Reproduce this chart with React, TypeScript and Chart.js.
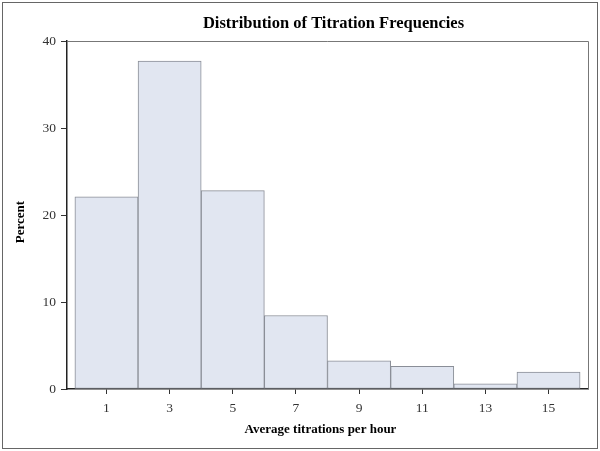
import React, { useEffect, useRef } from "react";
import { Chart, registerables } from "chart.js";

Chart.register(...registerables);

const binCenters = [1, 3, 5, 7, 9, 11, 13, 15];
const percents = [22.1, 37.7, 22.8, 8.45, 3.25, 2.6, 0.6, 1.95];
const yTicks = [0, 10, 20, 30, 40];
const titleText = "Distribution of Titration Frequencies";
const xTitle = "Average titrations per hour";
const yTitle = "Percent";

const frame = {
  id: "frame",
  afterDraw(chart: any) {
    const { ctx, chartArea } = chart;
    ctx.save();
    ctx.strokeStyle = "#777";
    ctx.lineWidth = 1;
    ctx.beginPath();
    ctx.moveTo(chartArea.left, Math.round(chartArea.top) + 0.5);
    ctx.lineTo(Math.round(chartArea.right) + 0.5, Math.round(chartArea.top) + 0.5);
    ctx.lineTo(Math.round(chartArea.right) + 0.5, chartArea.bottom);
    ctx.stroke();
    ctx.strokeStyle = "#666";
    ctx.strokeRect(2.5, 2.5, chart.width - 5, chart.height - 5);

    const cx = (chartArea.left + chartArea.right) / 2;
    const cy = (chartArea.top + chartArea.bottom) / 2;
    ctx.fillStyle = "#000";
    ctx.textAlign = "center";
    ctx.textBaseline = "middle";
    ctx.font = "bold 16.5px 'Liberation Serif'";
    ctx.fillText(titleText, cx + 6, chartArea.top - 17);
    ctx.font = "bold 13px 'Liberation Serif'";
    ctx.fillText(xTitle, cx - 7, chartArea.bottom + 41);
    ctx.translate(21, cy + 7);
    ctx.rotate(-Math.PI / 2);
    ctx.fillText(yTitle, 0, 0);
    ctx.restore();
  },
};

export default function App() {
  const ref = useRef<HTMLCanvasElement>(null);
  useEffect(() => {
    document.body.style.margin = "0";
    const chart = new Chart(ref.current!, {
      type: "bar",
      data: {
        datasets: [
          {
            data: binCenters.map((x, i) => ({ x, y: percents[i] })),
            backgroundColor: "#e1e6f1",
            borderColor: "#8a8e97",
            borderWidth: 1,
            barPercentage: 1,
            categoryPercentage: 1,
            borderSkipped: false,
          },
        ],
      },
      options: {
        animation: false,
        responsive: false,
        devicePixelRatio: 1,
        layout: { padding: { left: 0, right: 12, top: 41, bottom: 0 } },
        plugins: {
          legend: { display: false },
          tooltip: { enabled: false },
          title: { display: false },
        },
        scales: {
          x: {
            type: "linear",
            min: -0.25,
            max: 16.25,
            offset: false,
            afterBuildTicks: (s: any) => {
              s.ticks = binCenters.map((v) => ({ value: v }));
            },
            afterFit: (s: any) => {
              s.height = 62;
            },
            ticks: {
              color: "#333",
              font: { family: "Liberation Serif", size: 13.5 },
              padding: 6,
              autoSkip: false,
              maxRotation: 0,
            },
            grid: { drawOnChartArea: false, drawTicks: true, tickLength: 5, color: "#333", offset: false },
            border: { display: true, color: "#222", width: 1.5 },
            title: { display: false },
          },
          y: {
            min: 0,
            max: 40,
            afterBuildTicks: (s: any) => {
              s.ticks = yTicks.map((v) => ({ value: v }));
            },
            afterFit: (s: any) => {
              s.width = 67;
            },
            ticks: {
              color: "#333",
              font: { family: "Liberation Serif", size: 13.5 },
              padding: 5,
            },
            grid: { drawOnChartArea: false, drawTicks: true, tickLength: 6, color: "#333" },
            border: { display: true, color: "#222", width: 1.5 },
            title: { display: false },
          },
        },
      },
      plugins: [frame],
    } as any);
    return () => chart.destroy();
  }, []);
  return (
    <div style={{ position: "absolute", left: 0, top: 0, width: 600, height: 451 }}>
      <canvas ref={ref} width={600} height={451} style={{ width: 600, height: 451 }} />
    </div>
  );
}
